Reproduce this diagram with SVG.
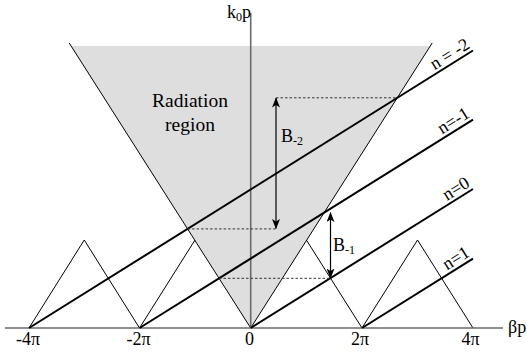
<svg xmlns="http://www.w3.org/2000/svg" width="527" height="353" viewBox="0 0 527 353">
<style>
text{fill:#000}
.ax{stroke:#6a6a6a;stroke-width:1.6;fill:none}
.thin{stroke:#000;stroke-width:1;fill:none}
.thick{stroke:#000;stroke-width:2;fill:none}
.dash{stroke:#333;stroke-width:1;stroke-dasharray:2.5,2;fill:none}
.arr{stroke:#000;stroke-width:1.2;fill:none;marker-start:url(#ah);marker-end:url(#ah)}
</style>
<defs>
<marker id="ah" viewBox="0 0 10 8" refX="9.5" refY="4" markerWidth="10" markerHeight="8" markerUnits="userSpaceOnUse" orient="auto-start-reverse">
<path d="M0,0 L10,4 L0,8 L2.5,4 z" fill="#000"/>
</marker>
</defs>
<g id="radiation-region">
<polygon points="250.7,328 71.1,46 430.3,46" fill="#dedede"/>
<text x="190" y="107" text-anchor="middle" font-family="Liberation Serif, serif" font-size="19.5">Radiation</text>
<text x="190" y="131" text-anchor="middle" font-family="Liberation Serif, serif" font-size="19.5">region</text>
</g>
<g id="light-lines">
<line class="thin" x1="250.7" y1="328" x2="69.2" y2="43"/>
<line class="thin" x1="250.7" y1="328" x2="432.2" y2="43"/>
</g>
<g id="triangles">
<polyline class="thin" points="29,328 84.25,240 139.5,328"/>
<polyline class="thin" points="139.5,328 195,240"/>
<polyline class="thin" points="306.4,240 362,328"/>
<polyline class="thin" points="362,328 417.5,240 473,328"/>
</g>
<g id="axes">
<line class="ax" x1="5" y1="328" x2="503" y2="328"/>
<line class="ax" x1="250.7" y1="328" x2="250.7" y2="13"/>
<text x="508" y="333" font-family="Liberation Serif, serif" font-size="18">βp</text>
<text x="227" y="18" font-family="Liberation Serif, serif" font-size="18">k<tspan font-size="12" dy="3">0</tspan><tspan dy="-3">p</tspan></text>
<text x="28" y="345" text-anchor="middle" font-family="Liberation Serif, serif" font-size="18">-4π</text>
<text x="138.5" y="345" text-anchor="middle" font-family="Liberation Serif, serif" font-size="18">-2π</text>
<text x="249.5" y="345" text-anchor="middle" font-family="Liberation Serif, serif" font-size="18">0</text>
<text x="360" y="345" text-anchor="middle" font-family="Liberation Serif, serif" font-size="18">2π</text>
<text x="470.5" y="345" text-anchor="middle" font-family="Liberation Serif, serif" font-size="18">4π</text>
</g>
<g id="connectors">
<line class="thick" x1="29" y1="328" x2="473" y2="50.5"/>
<line class="thick" x1="139.5" y1="328" x2="473" y2="119.6"/>
<line class="thick" x1="250.7" y1="328" x2="473" y2="189"/>
<line class="thick" x1="362" y1="328" x2="473" y2="258.6"/>
<line class="dash" x1="276" y1="97.8" x2="397.3" y2="97.8"/>
<line class="dash" x1="187.6" y1="228.9" x2="276" y2="228.9"/>
<line class="dash" x1="219" y1="278.3" x2="330.5" y2="278.3"/>
<line class="arr" x1="276" y1="98" x2="276" y2="228.5"/>
<line class="arr" x1="330.5" y1="212.6" x2="330.5" y2="278"/>
</g>
<g id="n-labels">
<text text-anchor="end" font-family="Liberation Serif, serif" font-size="18" transform="translate(471,47.5) rotate(-32)">n = -2</text>
<text text-anchor="end" font-family="Liberation Serif, serif" font-size="18" transform="translate(471,116.5) rotate(-32)">n=-1</text>
<text text-anchor="end" font-family="Liberation Serif, serif" font-size="18" transform="translate(471,186) rotate(-32)">n=0</text>
<text text-anchor="end" font-family="Liberation Serif, serif" font-size="18" transform="translate(471,255.5) rotate(-32)">n=1</text>
</g>
<g id="band-labels">
<text x="281" y="142" font-family="Liberation Serif, serif" font-size="18">B<tspan font-size="12" dy="3">-2</tspan></text>
<text x="333" y="251" font-family="Liberation Serif, serif" font-size="18">B<tspan font-size="12" dy="3">-1</tspan></text>
</g>
</svg>
